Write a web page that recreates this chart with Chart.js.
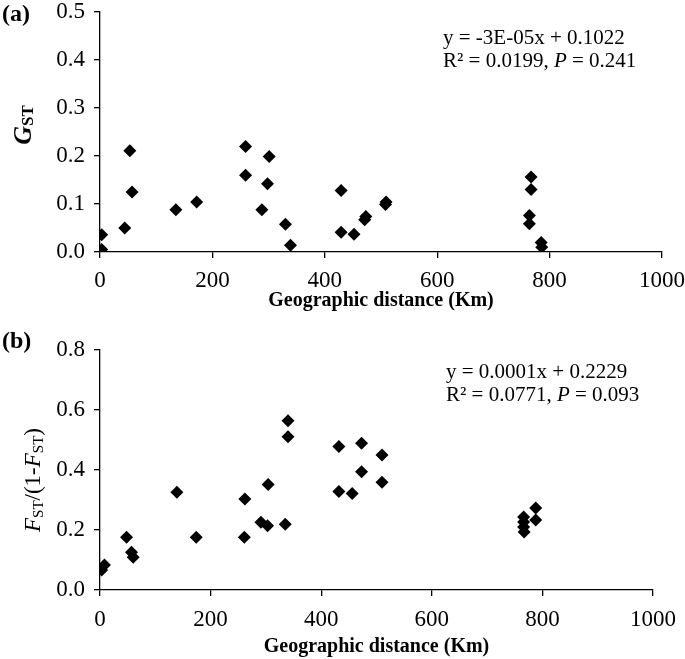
<!DOCTYPE html>
<html>
<head>
<meta charset="utf-8">
<script src="https://cdn.jsdelivr.net/npm/chart.js@4.4.1/dist/chart.umd.min.js"></script>
<style>
  body { margin: 0; background: #fff; }
  .panel { position: absolute; left: 0; }
</style>
</head>
<body>
<div class="panel" style="top:0"><canvas id="chartA" width="685" height="320"></canvas></div>
<div class="panel" style="top:320px"><canvas id="chartB" width="685" height="339"></canvas></div>
<script>
// (a) distancia geografica (km) vs GST
const distA = [3, 3, 44, 53, 57, 135, 172, 259, 259, 288, 298, 301, 330, 339, 429, 429, 452, 471, 473, 508, 509, 764, 764, 767, 767, 785, 786];
const gstA = [0.036, 0.005, 0.050, 0.211, 0.125, 0.088, 0.104, 0.220, 0.160, 0.088, 0.142, 0.199, 0.058, 0.014, 0.128, 0.041, 0.037, 0.067, 0.074, 0.099, 0.104, 0.076, 0.059, 0.156, 0.130, 0.020, 0.010];

// (b) distancia geografica (km) vs FST/(1-FST)
const distB = [3, 8, 48, 57, 60, 139, 174, 261, 262, 291, 303, 304, 335, 340, 340, 432, 432, 456, 473, 473, 510, 510, 766, 766, 766, 767, 788, 788];
const fstB = [0.067, 0.083, 0.176, 0.126, 0.109, 0.326, 0.176, 0.176, 0.303, 0.226, 0.214, 0.352, 0.219, 0.564, 0.511, 0.478, 0.328, 0.322, 0.489, 0.394, 0.450, 0.359, 0.243, 0.227, 0.210, 0.193, 0.273, 0.233];

const xTicks = [0, 200, 400, 600, 800, 1000];
const yTicksA = [0, 0.1, 0.2, 0.3, 0.4, 0.5];
const yTicksB = [0, 0.2, 0.4, 0.6, 0.8];

const serif = "'Liberation Serif', 'Times New Roman', serif";

// dibuja una linea de texto hecha de varios trozos (cursiva, subindices...)
function drawRuns(ctx, runs, x, y, centered) {
    let total = 0;
    runs.forEach(r => { ctx.font = r.font; total += ctx.measureText(r.t).width; });
    let cx = centered ? x - total / 2 : x;
    ctx.textBaseline = 'middle';
    ctx.textAlign = 'left';
    runs.forEach(r => {
        ctx.font = r.font;
        ctx.fillText(r.t, cx, y + (r.dy || 0));
        cx += ctx.measureText(r.t).width;
    });
}

const textosPlugin = {
    id: 'textos',
    afterDraw(chart, args, opts) {
        const ctx = chart.ctx;
        ctx.save();
        ctx.fillStyle = '#000';
        // etiqueta del panel
        ctx.font = `bold 24px ${serif}`;
        ctx.textBaseline = 'middle';
        ctx.fillText(opts.panel, 2, opts.panelY);
        // ecuacion
        opts.eq.forEach((linea, i) => drawRuns(ctx, linea, opts.eqX, opts.eqY + i * 23, false));
        // titulo eje y rotado
        ctx.translate(opts.yTitleX, opts.yTitleY);
        ctx.rotate(-Math.PI / 2);
        drawRuns(ctx, opts.yTitle, 0, 0, true);
        ctx.restore();
    }
};

function configurarGrafica(xs, ys, yTicks, pad, xHeight, textos) {
    return {
        type: 'scatter',
        data: {
            datasets: [{
                data: xs.map((x, i) => ({ x: x, y: ys[i] })),
                pointStyle: 'rectRot',
                pointRadius: 6.5,
                backgroundColor: '#000',
                borderColor: '#000',
                borderWidth: 0
            }]
        },
        options: {
            responsive: false,
            animation: false,
            devicePixelRatio: 1,
            layout: { padding: pad },
            plugins: { legend: { display: false }, tooltip: { enabled: false }, textos: textos },
            scales: {
                x: {
                    min: 0, max: 1000,
                    afterBuildTicks: s => { s.ticks = xTicks.map(v => ({ value: v })); },
                    afterFit: s => { s.height = xHeight; s.paddingLeft = 0; s.paddingRight = 0; },
                    border: { color: '#000', width: 1.3 },
                    grid: { drawOnChartArea: false, color: '#000', tickLength: 6, lineWidth: 1.3 },
                    ticks: {
                        color: '#000', padding: textos.xPad, maxRotation: 0,
                        font: { family: serif, size: 23 },
                        callback: v => String(v)
                    },
                    title: {
                        display: true,
                        text: 'Geographic distance (Km)',
                        color: '#000',
                        font: { family: serif, size: 20, weight: 'bold' },
                        padding: { top: 0, bottom: textos.titlePad }
                    }
                },
                y: {
                    min: 0, max: yTicks[yTicks.length - 1],
                    afterBuildTicks: s => { s.ticks = yTicks.map(v => ({ value: v })); },
                    afterFit: s => { s.width = 100; s.paddingTop = 0; s.paddingBottom = 0; },
                    border: { color: '#000', width: 1.3 },
                    grid: { drawOnChartArea: false, color: '#000', tickLength: 6, lineWidth: 1.3 },
                    ticks: {
                        color: '#000', padding: 9,
                        font: { family: serif, size: 23 },
                        callback: v => v.toFixed(1)
                    }
                }
            }
        },
        plugins: [textosPlugin]
    };
}

new Chart(document.getElementById('chartA'), configurarGrafica(distA, gstA, yTicksA,
    { top: 12, right: 23, left: 0, bottom: 0 }, 68, {
        panel: '(a)', panelY: 15,
        eqX: 443, eqY: 38,
        eq: [
            [{ t: 'y = -3E-05x + 0.1022', font: `21px ${serif}` }],
            [{ t: 'R² = 0.0199, ', font: `21px ${serif}` }, { t: 'P', font: `italic 21px ${serif}` }, { t: ' = 0.241', font: `21px ${serif}` }]
        ],
        yTitleX: 24, yTitleY: 125,
        yTitle: [{ t: 'G', font: `italic bold 26px ${serif}` }, { t: 'ST', font: `bold 17px ${serif}`, dy: 5 }],
        xPad: 9, titlePad: 7
    }));

new Chart(document.getElementById('chartB'), configurarGrafica(distB, fstB, yTicksB,
    { top: 30, right: 32, left: 0, bottom: 0 }, 69, {
        panel: '(b)', panelY: 22,
        eqX: 446, eqY: 52,
        eq: [
            [{ t: 'y = 0.0001x + 0.2229', font: `21px ${serif}` }],
            [{ t: 'R² = 0.0771, ', font: `21px ${serif}` }, { t: 'P', font: `italic 21px ${serif}` }, { t: ' = 0.093', font: `21px ${serif}` }]
        ],
        yTitleX: 34, yTitleY: 160,
        yTitle: [
            { t: 'F', font: `italic 23px ${serif}` }, { t: 'ST', font: `15px ${serif}`, dy: 5 },
            { t: '/(1-', font: `23px ${serif}` },
            { t: 'F', font: `italic 23px ${serif}` }, { t: 'ST', font: `15px ${serif}`, dy: 5 },
            { t: ')', font: `23px ${serif}` }
        ],
        xPad: 10, titlePad: 0
    }));
</script>
</body>
</html>
